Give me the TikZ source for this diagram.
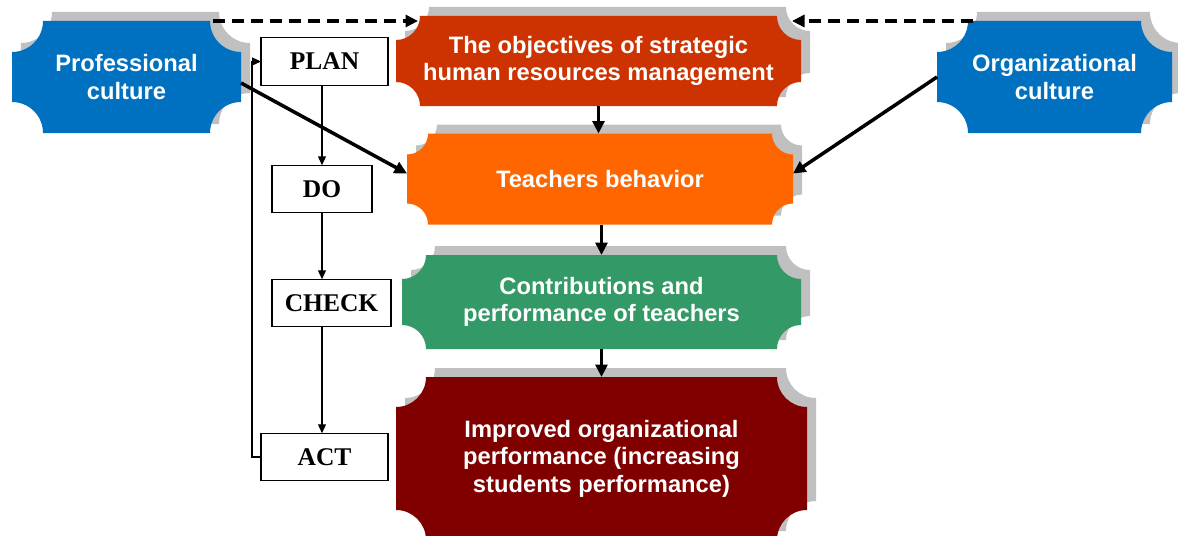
\documentclass[tikz,border=0pt]{standalone}
\usepackage{fontspec}
\setmainfont{Liberation Serif}
\newfontfamily\boxfont{Liberation Sans}
\usetikzlibrary{arrows.meta, calc, backgrounds}
\definecolor{cblue}{HTML}{0070C0}
\definecolor{cred}{HTML}{CC3300}
\definecolor{corange}{HTML}{FF6600}
\definecolor{cgreen}{HTML}{339966}
\definecolor{cmaroon}{HTML}{800000}
\definecolor{cshadow}{HTML}{C0C0C0}
\tikzset{
  plaque/.style={text=white, font=\boxfont\bfseries\fontsize{13.5}{15.7}\selectfont, align=center, inner sep=0pt, outer sep=0pt},
  pdca/.style={draw, line width=0.6pt, font=\bfseries\fontsize{14.5}{17}\selectfont, inner sep=0pt, outer sep=0pt, minimum height=0.95cm},
  arrow/.style={-{Triangle[length=2.5mm, width=2.4mm]}, line width=2pt},
  dasharrow/.style={arrow, dash pattern=on 6.8pt off 4pt},
  thinarrow/.style={-{Triangle[length=1.8mm, width=1.6mm]}, line width=0.7pt},
}
% colour, node, corner radius, shift
\newcommand{\plaquefill}[4]{%
  \fill[#1] let \p1=($(#2.north west)+(#4)$), \p2=($(#2.south east)+(#4)$) in
    ({\x1+#3},\y1) -- ({\x2-#3},\y1) arc[start angle=180, end angle=270, radius=#3]
    -- (\x2,{\y2+#3}) arc[start angle=90, end angle=180, radius=#3]
    -- ({\x1+#3},\y2) arc[start angle=0, end angle=90, radius=#3]
    -- (\x1,{\y1-#3}) arc[start angle=270, end angle=360, radius=#3] -- cycle;}
\newcommand{\plaque}[3]{\plaquefill{cshadow}{#1}{#2}{0.18,0.18}\plaquefill{#3}{#1}{#2}{0,0}}

\begin{document}
\begin{tikzpicture}
  \useasboundingbox (0,0) rectangle (23.56,10.70);
  \node[plaque, minimum width=4.58cm, minimum height=2.24cm] (prof) at (2.53,9.16) {Professional\\culture};
  \node[plaque, minimum width=4.70cm, minimum height=2.24cm] (org) at (21.09,9.16) {Organizational\\culture};
  \node[plaque, minimum width=8.10cm, minimum height=1.80cm] (obj) at (11.97,9.48) {The objectives of strategic\\human resources management};
  \node[plaque, minimum width=7.72cm, minimum height=1.82cm] (teach) at (12.00,7.12) {Teachers behavior};
  \node[plaque, minimum width=7.98cm, minimum height=1.88cm] (contrib) at (12.03,4.66) {Contributions and\\performance of teachers};
  \node[plaque, minimum width=8.22cm, minimum height=3.26cm] (impr) at (12.03,1.53) {Improved organizational\\performance (increasing\\students performance)};
  \begin{scope}[on background layer]
    \plaque{prof}{0.62cm}{cblue}
    \plaque{org}{0.62cm}{cblue}
    \plaque{obj}{0.48cm}{cred}
    \plaque{teach}{0.42cm}{corange}
    \plaque{contrib}{0.48cm}{cgreen}
    \plaque{impr}{0.6cm}{cmaroon}
  \end{scope}

  \node[pdca, minimum width=2.54cm] (plan) at (6.49,9.47) {PLAN};
  \node[pdca, minimum width=2.00cm] (do) at (6.44,6.92) {DO};
  \node[pdca, minimum width=2.38cm] (check) at (6.63,4.64) {CHECK};
  \node[pdca, minimum width=2.54cm] (act) at (6.49,1.56) {ACT};
  \foreach \a/\b in {plan/do, do/check, check/act}
    \draw[thinarrow] (do.north |- \a.south) -- (do.north |- \b.north);
  \draw[thinarrow] (act.west) -- ++(-0.18,0) |- (plan.west);

  \draw[dasharrow] ([xshift=-0.56cm]prof.north east) -- ($(obj.north west |- prof.north)+(0.44,0)$);
  \draw[dasharrow] ([xshift=0.72cm]org.north west) -- ($(obj.north east |- org.north)+(-0.18,0)$);
  \draw[arrow] ([yshift=-0.12cm]prof.east) -- ([yshift=0.11cm]teach.west);
  \draw[arrow] (org.west) -- ([yshift=0.11cm]teach.east);
  \draw[arrow] (obj.south) -- (obj.south |- teach.north);
  \draw[arrow] (contrib.north |- teach.south) -- (contrib.north);
  \draw[arrow] (contrib.south) -- (contrib.south |- impr.north);
\end{tikzpicture}
\end{document}
